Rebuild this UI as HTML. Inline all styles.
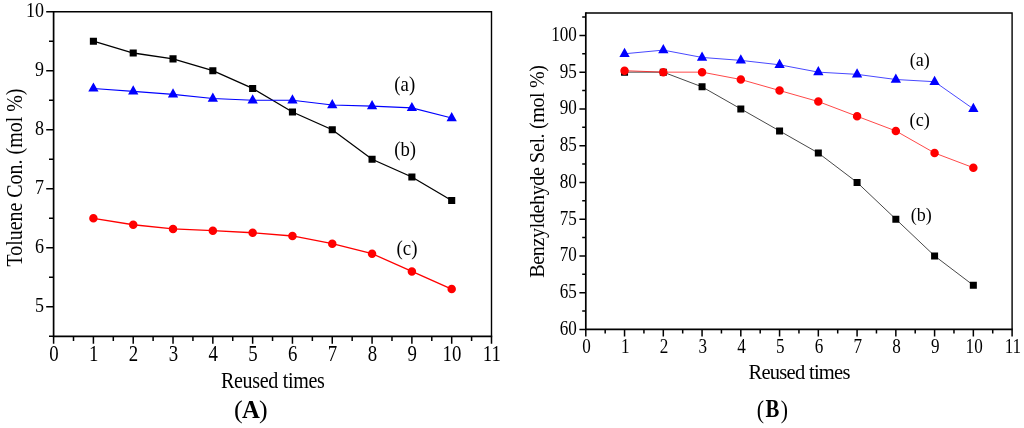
<!DOCTYPE html>
<html lang="en"><head><meta charset="utf-8"><title>Figure</title>
<style>
html,body{margin:0;padding:0;background:#fff;}
svg{display:block;will-change:transform;font-family:"Liberation Serif","DejaVu Serif",serif;fill:#000;}
</style></head><body>
<svg width="1024" height="428" viewBox="0 0 1024 428">
<rect width="1024" height="428" fill="#fff"/>
<polyline points="93.41,41.21 133.22,53.01 173.03,58.92 212.84,70.72 252.65,88.43 292.45,112.03 332.26,129.74 372.07,159.25 411.88,176.96 451.69,200.56" fill="none" stroke="#000" stroke-width="1.3"/>
<path d="M89.86 37.66h7.1v7.1h-7.1zM129.67 49.46h7.1v7.1h-7.1zM169.48 55.37h7.1v7.1h-7.1zM209.29 67.17h7.1v7.1h-7.1zM249.1 84.88h7.1v7.1h-7.1zM288.9 108.48h7.1v7.1h-7.1zM328.71 126.19h7.1v7.1h-7.1zM368.52 155.7h7.1v7.1h-7.1zM408.33 173.41h7.1v7.1h-7.1zM448.14 197.01h7.1v7.1h-7.1z" fill="#000"/>
<polyline points="93.41,88.43 133.22,91.38 173.03,94.33 212.84,98.46 252.65,100.23 292.45,100.23 332.26,104.95 372.07,106.13 411.88,107.9 451.69,117.94" fill="none" stroke="#0000ff" stroke-width="1.1"/>
<path d="M93.41 82.4L98.56 91.62H88.26zM133.22 85.35L138.37 94.57H128.07zM173.03 88.3L178.18 97.52H167.88zM212.84 92.43L217.99 101.65H207.69zM252.65 94.2L257.8 103.42H247.5zM292.45 94.2L297.6 103.42H287.3zM332.26 98.93L337.41 108.14H327.11zM372.07 100.11L377.22 109.32H366.92zM411.88 101.88L417.03 111.1H406.73zM451.69 111.91L456.84 121.13H446.54z" fill="#0000ff"/>
<polyline points="93.41,218.27 133.22,224.76 173.03,228.89 212.84,230.66 252.65,232.73 292.45,235.98 332.26,243.65 372.07,253.68 411.88,271.39 451.69,289.09" fill="none" stroke="#ff0000" stroke-width="1.3"/>
<path d="M89.16 218.27a4.25 4.25 0 1 0 8.5 0a4.25 4.25 0 1 0 -8.5 0zM128.97 224.76a4.25 4.25 0 1 0 8.5 0a4.25 4.25 0 1 0 -8.5 0zM168.78 228.89a4.25 4.25 0 1 0 8.5 0a4.25 4.25 0 1 0 -8.5 0zM208.59 230.66a4.25 4.25 0 1 0 8.5 0a4.25 4.25 0 1 0 -8.5 0zM248.4 232.73a4.25 4.25 0 1 0 8.5 0a4.25 4.25 0 1 0 -8.5 0zM288.2 235.98a4.25 4.25 0 1 0 8.5 0a4.25 4.25 0 1 0 -8.5 0zM328.01 243.65a4.25 4.25 0 1 0 8.5 0a4.25 4.25 0 1 0 -8.5 0zM367.82 253.68a4.25 4.25 0 1 0 8.5 0a4.25 4.25 0 1 0 -8.5 0zM407.63 271.39a4.25 4.25 0 1 0 8.5 0a4.25 4.25 0 1 0 -8.5 0zM447.44 289.09a4.25 4.25 0 1 0 8.5 0a4.25 4.25 0 1 0 -8.5 0z" fill="#ff0000"/>
<path d="M53.6 11.7H491.5V336.31" fill="none" stroke="#000" stroke-width="1.4"/>
<path d="M53.6 11V336.31H492.2" fill="none" stroke="#000" stroke-width="1.7"/>
<path d="M53.6 336.31v7.4M93.41 336.31v7.4M133.22 336.31v7.4M173.03 336.31v7.4M212.84 336.31v7.4M252.65 336.31v7.4M292.45 336.31v7.4M332.26 336.31v7.4M372.07 336.31v7.4M411.88 336.31v7.4M451.69 336.31v7.4M491.5 336.31v7.4M73.5 336.31v4.6M113.31 336.31v4.6M153.12 336.31v4.6M192.93 336.31v4.6M232.74 336.31v4.6M272.55 336.31v4.6M312.36 336.31v4.6M352.17 336.31v4.6M391.98 336.31v4.6M431.79 336.31v4.6M471.6 336.31v4.6" stroke="#000" stroke-width="1.5" fill="none"/>
<path d="M53.6 306.8h-7.4M53.6 247.78h-7.4M53.6 188.76h-7.4M53.6 129.74h-7.4M53.6 70.72h-7.4M53.6 11.7h-7.4M53.6 336.31h-4.6M53.6 277.29h-4.6M53.6 218.27h-4.6M53.6 159.25h-4.6M53.6 100.23h-4.6M53.6 41.21h-4.6" stroke="#000" stroke-width="1.5" fill="none"/>
<text transform="translate(53.9,360.71) scale(0.83,1)" font-size="22.7" text-anchor="middle">0</text>
<text transform="translate(93.71,360.71) scale(0.83,1)" font-size="22.7" text-anchor="middle">1</text>
<text transform="translate(133.52,360.71) scale(0.83,1)" font-size="22.7" text-anchor="middle">2</text>
<text transform="translate(173.33,360.71) scale(0.83,1)" font-size="22.7" text-anchor="middle">3</text>
<text transform="translate(213.14,360.71) scale(0.83,1)" font-size="22.7" text-anchor="middle">4</text>
<text transform="translate(252.95,360.71) scale(0.83,1)" font-size="22.7" text-anchor="middle">5</text>
<text transform="translate(292.75,360.71) scale(0.83,1)" font-size="22.7" text-anchor="middle">6</text>
<text transform="translate(332.56,360.71) scale(0.83,1)" font-size="22.7" text-anchor="middle">7</text>
<text transform="translate(372.37,360.71) scale(0.83,1)" font-size="22.7" text-anchor="middle">8</text>
<text transform="translate(412.18,360.71) scale(0.83,1)" font-size="22.7" text-anchor="middle">9</text>
<text transform="translate(451.99,360.71) scale(0.83,1)" font-size="22.7" text-anchor="middle">10</text>
<text transform="translate(491.8,360.71) scale(0.83,1)" font-size="22.7" text-anchor="middle">11</text>
<text transform="translate(44.1,312.1) scale(0.82,1)" font-size="22" text-anchor="end">5</text>
<text transform="translate(44.1,253.08) scale(0.82,1)" font-size="22" text-anchor="end">6</text>
<text transform="translate(44.1,194.06) scale(0.82,1)" font-size="22" text-anchor="end">7</text>
<text transform="translate(44.1,135.04) scale(0.82,1)" font-size="22" text-anchor="end">8</text>
<text transform="translate(44.1,76.02) scale(0.82,1)" font-size="22" text-anchor="end">9</text>
<text transform="translate(44.1,17) scale(0.82,1)" font-size="22" text-anchor="end">10</text>
<text transform="translate(272.7,387.5) scale(0.88,1)" font-size="22.8" text-anchor="middle" letter-spacing="-0.37">Reused times</text>
<text transform="translate(22.2,177.6) rotate(-90) scale(0.86,1)" font-size="23.2" text-anchor="middle">Toluene Con. (mol %)</text>
<text transform="translate(404.75,91.1) scale(0.94,1)" font-size="20" text-anchor="middle">(a)</text>
<text transform="translate(405.2,155.8) scale(0.9,1)" font-size="20.8" text-anchor="middle">(b)</text>
<text transform="translate(407,254.8) scale(0.92,1)" font-size="20.5" text-anchor="middle">(c)</text>
<text x="250.9" y="417.8" text-anchor="middle"><tspan font-size="26" letter-spacing="-0.7">(</tspan><tspan font-size="24.7" font-weight="bold" dy="-0.1">A</tspan><tspan font-size="26" dx="-0.7" dy="0.1">)</tspan></text>
<polyline points="624.55,72.15 663.31,72.15 702.06,86.85 740.82,108.9 779.57,130.95 818.33,153 857.08,182.4 895.84,219.15 934.59,255.9 973.35,285.3" fill="none" stroke="#000" stroke-width="0.72"/>
<path d="M621.05 68.65h7.0v7.0h-7.0zM659.81 68.65h7.0v7.0h-7.0zM698.56 83.35h7.0v7.0h-7.0zM737.32 105.4h7.0v7.0h-7.0zM776.07 127.45h7.0v7.0h-7.0zM814.83 149.5h7.0v7.0h-7.0zM853.58 178.9h7.0v7.0h-7.0zM892.34 215.65h7.0v7.0h-7.0zM931.09 252.4h7.0v7.0h-7.0zM969.85 281.8h7.0v7.0h-7.0z" fill="#000"/>
<polyline points="624.55,70.68 663.31,72.15 702.06,72.15 740.82,79.5 779.57,90.53 818.33,101.55 857.08,116.25 895.84,130.95 934.59,153 973.35,167.7" fill="none" stroke="#ff0000" stroke-width="0.72"/>
<path d="M620.3 70.68a4.25 4.25 0 1 0 8.5 0a4.25 4.25 0 1 0 -8.5 0zM659.06 72.15a4.25 4.25 0 1 0 8.5 0a4.25 4.25 0 1 0 -8.5 0zM697.81 72.15a4.25 4.25 0 1 0 8.5 0a4.25 4.25 0 1 0 -8.5 0zM736.57 79.5a4.25 4.25 0 1 0 8.5 0a4.25 4.25 0 1 0 -8.5 0zM775.32 90.53a4.25 4.25 0 1 0 8.5 0a4.25 4.25 0 1 0 -8.5 0zM814.08 101.55a4.25 4.25 0 1 0 8.5 0a4.25 4.25 0 1 0 -8.5 0zM852.83 116.25a4.25 4.25 0 1 0 8.5 0a4.25 4.25 0 1 0 -8.5 0zM891.59 130.95a4.25 4.25 0 1 0 8.5 0a4.25 4.25 0 1 0 -8.5 0zM930.34 153a4.25 4.25 0 1 0 8.5 0a4.25 4.25 0 1 0 -8.5 0zM969.1 167.7a4.25 4.25 0 1 0 8.5 0a4.25 4.25 0 1 0 -8.5 0z" fill="#ff0000"/>
<polyline points="624.55,53.78 663.31,50.1 702.06,57.45 740.82,60.39 779.57,64.8 818.33,72.15 857.08,74.35 895.84,79.5 934.59,81.71 973.35,108.9" fill="none" stroke="#0000ff" stroke-width="0.72"/>
<path d="M624.55 47.75L629.7 56.97H619.4zM663.31 44.07L668.46 53.29H658.16zM702.06 51.42L707.21 60.64H696.91zM740.82 54.36L745.97 63.58H735.67zM779.57 58.77L784.72 67.99H774.42zM818.33 66.12L823.48 75.34H813.18zM857.08 68.33L862.23 77.55H851.93zM895.84 73.47L900.99 82.69H890.69zM934.59 75.68L939.74 84.9H929.44zM973.35 102.87L978.5 112.09H968.2z" fill="#0000ff"/>
<path d="M585.8 13.06H1012.1V329.4" fill="none" stroke="#000" stroke-width="1.4"/>
<path d="M585.8 12.36V329.4H1012.8" fill="none" stroke="#000" stroke-width="1.7"/>
<path d="M585.8 329.4v7.0M624.55 329.4v7.0M663.31 329.4v7.0M702.06 329.4v7.0M740.82 329.4v7.0M779.57 329.4v7.0M818.33 329.4v7.0M857.08 329.4v7.0M895.84 329.4v7.0M934.59 329.4v7.0M973.35 329.4v7.0M1012.1 329.4v7.0M605.18 329.4v4.2M643.93 329.4v4.2M682.69 329.4v4.2M721.44 329.4v4.2M760.2 329.4v4.2M798.95 329.4v4.2M837.7 329.4v4.2M876.46 329.4v4.2M915.21 329.4v4.2M953.97 329.4v4.2M992.72 329.4v4.2" stroke="#000" stroke-width="1.5" fill="none"/>
<path d="M585.8 329.4h-6.4M585.8 292.65h-6.4M585.8 255.9h-6.4M585.8 219.15h-6.4M585.8 182.4h-6.4M585.8 145.65h-6.4M585.8 108.9h-6.4M585.8 72.15h-6.4M585.8 35.4h-6.4M585.8 311.02h-3.6M585.8 274.27h-3.6M585.8 237.52h-3.6M585.8 200.78h-3.6M585.8 164.03h-3.6M585.8 127.28h-3.6M585.8 90.53h-3.6M585.8 53.78h-3.6M585.8 17.03h-3.6" stroke="#000" stroke-width="1.5" fill="none"/>
<text transform="translate(586.6,353.3) scale(0.8,1)" font-size="21.4" text-anchor="middle">0</text>
<text transform="translate(625.35,353.3) scale(0.8,1)" font-size="21.4" text-anchor="middle">1</text>
<text transform="translate(664.11,353.3) scale(0.8,1)" font-size="21.4" text-anchor="middle">2</text>
<text transform="translate(702.86,353.3) scale(0.8,1)" font-size="21.4" text-anchor="middle">3</text>
<text transform="translate(741.62,353.3) scale(0.8,1)" font-size="21.4" text-anchor="middle">4</text>
<text transform="translate(780.37,353.3) scale(0.8,1)" font-size="21.4" text-anchor="middle">5</text>
<text transform="translate(819.13,353.3) scale(0.8,1)" font-size="21.4" text-anchor="middle">6</text>
<text transform="translate(857.88,353.3) scale(0.8,1)" font-size="21.4" text-anchor="middle">7</text>
<text transform="translate(896.64,353.3) scale(0.8,1)" font-size="21.4" text-anchor="middle">8</text>
<text transform="translate(935.39,353.3) scale(0.8,1)" font-size="21.4" text-anchor="middle">9</text>
<text transform="translate(974.15,353.3) scale(0.8,1)" font-size="21.4" text-anchor="middle">10</text>
<text transform="translate(1012.9,353.3) scale(0.8,1)" font-size="21.4" text-anchor="middle">11</text>
<text transform="translate(576.8,334.9) scale(0.8,1)" font-size="21.4" text-anchor="end">60</text>
<text transform="translate(576.8,298.15) scale(0.8,1)" font-size="21.4" text-anchor="end">65</text>
<text transform="translate(576.8,261.4) scale(0.8,1)" font-size="21.4" text-anchor="end">70</text>
<text transform="translate(576.8,224.65) scale(0.8,1)" font-size="21.4" text-anchor="end">75</text>
<text transform="translate(576.8,187.9) scale(0.8,1)" font-size="21.4" text-anchor="end">80</text>
<text transform="translate(576.8,151.15) scale(0.8,1)" font-size="21.4" text-anchor="end">85</text>
<text transform="translate(576.8,114.4) scale(0.8,1)" font-size="21.4" text-anchor="end">90</text>
<text transform="translate(576.8,77.65) scale(0.8,1)" font-size="21.4" text-anchor="end">95</text>
<text transform="translate(576.8,40.9) scale(0.8,1)" font-size="21.4" text-anchor="end">100</text>
<text transform="translate(799.1,379.2) scale(0.97,1)" font-size="21.2" text-anchor="middle" letter-spacing="-0.76">Reused times</text>
<text transform="translate(544,171.6) rotate(-90) scale(0.94,1)" font-size="21.4" text-anchor="middle" letter-spacing="-0.42">Benzyldehyde Sel. (mol %)</text>
<text transform="translate(919.7,66) scale(0.91,1)" font-size="19.8" text-anchor="middle">(a)</text>
<text transform="translate(919.7,126.3) scale(0.92,1)" font-size="19.8" text-anchor="middle">(c)</text>
<text transform="translate(921.2,221.1) scale(0.91,1)" font-size="19.8" text-anchor="middle">(b)</text>
<text transform="translate(772.4,417.8) scale(0.84,1)" text-anchor="middle"><tspan font-size="26" letter-spacing="1.9">(</tspan><tspan font-size="24.75" font-weight="bold" dy="-1">B</tspan><tspan font-size="26" dx="1.7" dy="1">)</tspan></text>
</svg>
</body></html>
